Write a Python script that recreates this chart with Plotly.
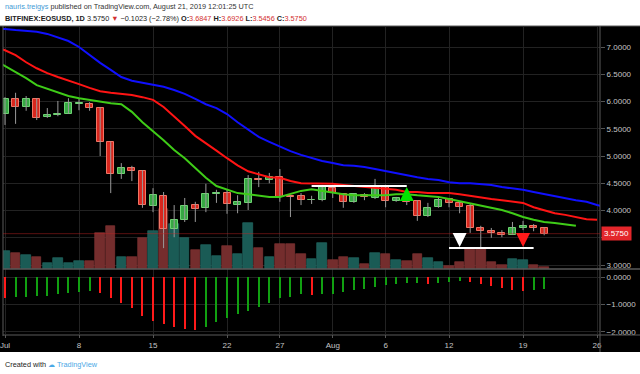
import pandas as pd
import plotly.graph_objects as go

# ---------------- data ----------------
start = pd.Timestamp("2019-07-01")
open_ = [5.77, 6.05, 5.90, 6.05, 5.72, 5.75, 5.77, 5.95, 5.95, 5.88,
         5.26, 4.67, 4.78, 4.72, 4.08, 4.27, 3.66, 3.83, 4.10, 4.05,
         4.30, 4.32, 4.10, 4.14, 4.58, 4.56, 4.61, 4.27, 4.27, 4.19,
         4.19, 4.41, 4.30, 4.16, 4.28, 4.23, 4.45, 4.17, 4.23, 4.17,
         3.90, 4.06, 4.21, 4.14, 4.08, 3.68, 3.62, 3.59, 3.55, 3.68,
         3.72, 3.6847]
high = [6.08, 6.16, 6.10, 6.06, 5.88, 6.01, 6.06, 6.05, 5.99, 5.90,
        5.26, 4.87, 4.82, 4.74, 4.41, 4.34, 4.10, 4.23, 4.16, 4.49,
        4.38, 4.38, 4.28, 4.65, 4.71, 4.69, 4.76, 4.27, 4.32, 4.27,
        4.47, 4.43, 4.32, 4.32, 4.32, 4.58, 4.47, 4.25, 4.25, 4.19,
        4.14, 4.23, 4.23, 4.16, 4.12, 3.72, 3.68, 3.64, 3.79, 3.81,
        3.75, 3.6926]
low = [5.57, 5.59, 5.83, 5.66, 5.70, 5.73, 5.77, 5.84, 5.83, 5.00,
       4.32, 4.58, 4.54, 4.05, 3.97, 3.31, 3.51, 3.79, 3.79, 3.97,
       4.14, 3.94, 3.95, 4.01, 4.43, 4.50, 4.16, 3.88, 4.10, 4.12,
       4.17, 4.23, 4.05, 4.14, 4.19, 4.21, 4.06, 4.16, 4.10, 3.81,
       3.88, 4.05, 4.06, 3.95, 3.59, 3.31, 3.50, 3.51, 3.55, 3.64,
       3.62, 3.5456]
close = [6.05, 5.90, 6.05, 5.70, 5.75, 5.77, 5.97, 5.97, 5.88, 5.26,
         4.67, 4.78, 4.72, 4.10, 4.28, 3.66, 3.83, 4.08, 4.03, 4.30,
         4.32, 4.12, 4.16, 4.58, 4.56, 4.61, 4.25, 4.25, 4.19, 4.20,
         4.43, 4.32, 4.16, 4.30, 4.25, 4.45, 4.17, 4.23, 4.16, 3.90,
         4.05, 4.19, 4.14, 4.06, 3.68, 3.62, 3.59, 3.55, 3.68, 3.72,
         3.6773, 3.5750]
volume = [18, 16, 14, 12, 6, 11, 6, 8, 8, 36,
          43, 12, 12, 31, 38, 60, 45, 31, 19, 24,
          13, 23, 15, 46, 21, 12, 25, 25, 15, 10,
          26, 9, 12, 11, 5, 16, 15, 9, 8, 15,
          11, 7, 3, 7, 20, 20, 7, 4, 10, 9,
          4, 2]
awesome_osc = [-0.75, -0.74, -0.71, -0.70, -0.68, -0.61, -0.57, -0.54, -0.52, -0.58,
               -0.76, -0.93, -1.14, -1.41, -1.60, -1.72, -1.82, -1.89, -1.91, -1.81,
               -1.63, -1.48, -1.36, -1.22, -1.08, -0.93, -0.78, -0.72, -0.63, -0.65,
               -0.63, -0.60, -0.54, -0.48, -0.45, -0.36, -0.30, -0.24, -0.23, -0.22,
               -0.24, -0.22, -0.18, -0.16, -0.18, -0.24, -0.33, -0.40, -0.46, -0.51,
               -0.47, -0.45]
ao_rising = [0, 1, 1, 1, 1, 1, 1, 1, 1, 0,
             0, 0, 0, 0, 0, 0, 0, 0, 0, 1,
             1, 1, 1, 1, 1, 1, 1, 1, 1, 0,
             1, 1, 1, 1, 1, 1, 1, 1, 1, 1,
             0, 1, 1, 1, 0, 0, 0, 0, 0, 0,
             1, 1]
# Alligator lines (first value = Jun 30), drawn shifted forward
lips = [6.76, 6.65, 6.54, 6.43, 6.30, 6.23, 6.16, 6.10, 6.06, 6.03,
        5.99, 5.97, 5.95, 5.81, 5.62, 5.46, 5.29, 5.11, 4.96, 4.78,
        4.60, 4.45, 4.38, 4.32, 4.30, 4.27, 4.25, 4.25, 4.30, 4.36,
        4.39, 4.36, 4.32, 4.30, 4.28, 4.28, 4.28, 4.28, 4.30, 4.30,
        4.28, 4.27, 4.25, 4.21, 4.17, 4.14, 4.10, 4.06, 4.01, 3.95,
        3.88, 3.83, 3.79, 3.77, 3.75, 3.72]
teeth = [7.00, 6.94, 6.85, 6.72, 6.61, 6.52, 6.45, 6.39, 6.32, 6.25,
         6.19, 6.16, 6.14, 6.12, 6.08, 6.03, 5.90, 5.73, 5.55, 5.37,
         5.24, 5.10, 4.96, 4.83, 4.72, 4.67, 4.61, 4.60, 4.54, 4.50,
         4.50, 4.50, 4.49, 4.47, 4.45, 4.43, 4.41, 4.39, 4.38, 4.34,
         4.34, 4.32, 4.32, 4.32, 4.30, 4.27, 4.23, 4.21, 4.19, 4.17,
         4.14, 4.06, 4.01, 3.95, 3.92, 3.88, 3.84, 3.83]
jaw = [7.33, 7.33, 7.31, 7.29, 7.28, 7.24, 7.18, 7.11, 7.00, 6.85,
       6.71, 6.58, 6.45, 6.38, 6.34, 6.30, 6.27, 6.21, 6.14, 6.05,
       5.95, 5.88, 5.77, 5.62, 5.48, 5.35, 5.26, 5.17, 5.09, 5.02,
       4.96, 4.91, 4.87, 4.83, 4.82, 4.80, 4.76, 4.72, 4.69, 4.65,
       4.61, 4.58, 4.56, 4.52, 4.50, 4.50, 4.49, 4.47, 4.43, 4.41,
       4.38, 4.34, 4.30, 4.27, 4.23, 4.19, 4.16, 4.10, 4.06]
level_high = 4.45
level_high_span = ["2019-07-30", "2019-08-08"]
level_low = 3.31
level_low_span = ["2019-08-12", "2019-08-20"]
arrow_up_date = "2019-08-08"
arrow_white_date = "2019-08-13"
arrow_red_date = "2019-08-19"
tick_dates = ["2019-07-01", "2019-07-08", "2019-07-15", "2019-07-22", "2019-07-27",
              "2019-08-01", "2019-08-06", "2019-08-12", "2019-08-19", "2019-08-26"]
tick_text = ["Jul", "8", "15", "22", "27", "Aug", "6", "12", "19", "26"]
price_ticks = [3.0, 3.5, 4.0, 4.5, 5.0, 5.5, 6.0, 6.5, 7.0]
price_tick_text = ["3.0000", "", "4.0000", "4.5000", "5.0000", "5.5000", "6.0000", "6.5000", "7.0000"]
osc_ticks = [0.0, -1.0, -2.0]

# ---------------- build ----------------
n = len(close)
dates = pd.date_range(start, periods=n, freq="D")
line_start = start - pd.Timedelta(days=1)
lips_x = pd.date_range(line_start, periods=len(lips), freq="D")
teeth_x = pd.date_range(line_start, periods=len(teeth), freq="D")
jaw_x = pd.date_range(line_start, periods=len(jaw), freq="D")
DAY = 86400000

UP_FILL, UP_LINE = "#36a843", "#6fd273"
DN_FILL, DN_LINE = "#d8261d", "#f07565"
up = [c >= o for o, c in zip(open_, close)]

fig = go.Figure()

# volume (base axis y, behind)
fig.add_trace(go.Bar(
    x=dates, y=volume, width=0.9 * DAY, yaxis="y", xaxis="x",
    marker=dict(color=["#1a5b55" if u else "#742d2d" for u in up],
                line=dict(color=["#24706a" if u else "#8a3838" for u in up], width=0.6)),
    hoverinfo="skip", showlegend=False))

# wicks
wx, wy = [], []
for d, lo, hi in zip(dates, low, high):
    wx += [d, d, None]
    wy += [lo, hi, None]
fig.add_trace(go.Scatter(x=wx, y=wy, mode="lines", yaxis="y3",
                         line=dict(color="#9a9a9a", width=1), hoverinfo="skip",
                         showlegend=False))

# bodies
for flag, fill, edge in [(True, UP_FILL, UP_LINE), (False, DN_FILL, DN_LINE)]:
    xs = [d for d, u in zip(dates, up) if u == flag]
    base = [min(o, c) for o, c, u in zip(open_, close, up) if u == flag]
    hgt = [max(abs(c - o), 0.008) for o, c, u in zip(open_, close, up) if u == flag]
    fig.add_trace(go.Bar(x=xs, y=hgt, base=base, width=0.66 * DAY, yaxis="y3",
                         marker=dict(color=fill, line=dict(color=edge, width=1)),
                         hoverinfo="skip", showlegend=False))

# alligator lines
for xs, ys, col in [(jaw_x, jaw, "#1010ff"), (teeth_x, teeth, "#ff1414"),
                    (lips_x, lips, "#3fcc18")]:
    fig.add_trace(go.Scatter(x=xs, y=ys, mode="lines", yaxis="y3",
                             line=dict(color=col, width=2), hoverinfo="skip",
                             showlegend=False))

# horizontal levels
for span, lvl in [(level_high_span, level_high), (level_low_span, level_low)]:
    fig.add_trace(go.Scatter(x=span, y=[lvl, lvl], mode="lines", yaxis="y3",
                             line=dict(color="#ffffff", width=2), hoverinfo="skip",
                             showlegend=False))

# oscillator
fig.add_trace(go.Bar(
    x=dates, y=awesome_osc, width=0.19 * DAY, yaxis="y2", xaxis="x",
    marker=dict(color=["#11a011" if r else "#ff1a1a" for r in ao_rising], line=dict(width=0)),
    hoverinfo="skip", showlegend=False))

# ---------------- layout ----------------
W, H = 640, 374
ML, MR, MT, MB = 3, 40, 27, 40
PW, PH = W - ML - MR, H - MT - MB
SEP_Y = 269
split = (H - MB - SEP_Y) / PH


def px_x(X):
    return (X - ML) / PW


def px_y(Y):
    return (H - MB - Y) / PH


x_range = [start - pd.Timedelta(hours=0.19 * 24), start + pd.Timedelta(hours=56.28 * 24)]
GRID = "#222222"
AXC = "#c4c4c4"
FONT = "Liberation Sans"
HSIZE = 7.3

fig.update_layout(
    width=W, height=H, margin=dict(l=ML, r=MR, t=MT, b=MB, autoexpand=False),
    paper_bgcolor="white", plot_bgcolor="black",
    barmode="overlay", bargap=0, showlegend=False,
    font=dict(family=FONT, size=8, color=AXC),
    xaxis=dict(type="date", range=x_range, anchor="y2", domain=[0, 1],
               tickvals=tick_dates, ticktext=tick_text, ticks="outside", ticklen=3,
               tickcolor="#555555", showgrid=True, gridcolor=GRID, gridwidth=1,
               zeroline=False, showline=False, ticklabeloverflow="allow",
               tickfont=dict(size=8, color=AXC)),
    yaxis=dict(domain=[split, 1], range=[0, SEP_Y - MT], visible=False,
               showgrid=False, fixedrange=True),
    yaxis3=dict(overlaying="y", side="right", range=[2.927, 7.367],
                tickvals=price_ticks, ticktext=price_tick_text, ticks="outside", ticklen=4,
                tickcolor="#555555", showgrid=True, gridcolor=GRID, zeroline=False,
                showline=False, tickfont=dict(size=8, color=AXC)),
    yaxis2=dict(domain=[0, split], side="right", range=[-2.073, 0.291],
                tickvals=osc_ticks, tickformat=".4f", ticks="outside", ticklen=4,
                tickcolor="#555555", showgrid=True, gridcolor=GRID, zeroline=False,
                showline=False, tickfont=dict(size=8, color=AXC)),
)

shapes = [
    dict(type="rect", xref="paper", yref="paper", x0=px_x(0), x1=px_x(W),
         y0=px_y(352), y1=px_y(26), fillcolor="black", line=dict(width=0), layer="below"),
    dict(type="line", xref="paper", yref="paper", x0=px_x(0), x1=px_x(W),
         y0=px_y(26), y1=px_y(26), line=dict(color="#5a5a5a", width=1)),
    dict(type="line", xref="paper", yref="paper", x0=px_x(3), x1=px_x(3),
         y0=px_y(336), y1=px_y(26), line=dict(color="#5a5a5a", width=1)),
    dict(type="line", xref="paper", yref="paper", x0=px_x(3), x1=px_x(W),
         y0=px_y(SEP_Y), y1=px_y(SEP_Y), line=dict(color="#5a5a5a", width=1.5)),
    dict(type="line", xref="paper", yref="paper", x0=px_x(3), x1=px_x(W),
         y0=px_y(335), y1=px_y(335), line=dict(color="#5a5a5a", width=1)),
    dict(type="line", xref="paper", yref="paper", x0=px_x(600), x1=px_x(600),
         y0=px_y(352), y1=px_y(26), line=dict(color="#5a5a5a", width=1)),
    dict(type="line", xref="x domain", yref="y3", x0=0, x1=1, y0=close[-1], y1=close[-1],
         line=dict(color="rgba(200,35,35,0.45)", width=1)),
]
fig.update_layout(shapes=shapes)

last_o, last_h, last_l, last_c = open_[-1], high[-1], low[-1], close[-1]
chg = last_c - close[-2]
pct = chg / close[-2] * 100
RED = "#d32f2f"
hdr1 = ("<span style='color:#3f9bd6'>nauris.treigys</span>"
        "<span style='color:#333333'> published on TradingView.com, August 21, 2019 12:01:25 UTC</span>")
hdr2 = (f"<span style='color:#222222'><b>BITFINEX:EOSUSD, 1D</b> {last_c:.4f} </span>"
        f"<span style='color:{RED}'>▼</span>"
        f"<span style='color:#222222'> {chg:.4f} ({pct:.2f}%) <b>O:</b></span>"
        f"<span style='color:{RED}'>{last_o:.4f}</span><span style='color:#222222'> <b>H:</b></span>"
        f"<span style='color:{RED}'>{last_h:.4f}</span><span style='color:#222222'> <b>L:</b></span>"
        f"<span style='color:{RED}'>{last_l:.4f}</span><span style='color:#222222'> <b>C:</b></span>"
        f"<span style='color:{RED}'>{last_c:.4f}</span>").replace("-", "−")

ann = [
    dict(xref="paper", yref="paper", x=px_x(3), y=px_y(7), xanchor="left", yanchor="middle",
         text=hdr1, showarrow=False, font=dict(family=FONT, size=HSIZE)),
    dict(xref="paper", yref="paper", x=px_x(3), y=px_y(19), xanchor="left", yanchor="middle",
         text=hdr2, showarrow=False, font=dict(family=FONT, size=HSIZE)),
    dict(xref="paper", yref="paper", x=px_x(3), y=px_y(364), xanchor="left", yanchor="middle",
         text="<span style='color:#222222'>Created with </span>"
              "<span style='color:#4aa8e6'>☁ TradingView</span>",
         showarrow=False, font=dict(family=FONT, size=HSIZE)),
    dict(xref="paper", yref="y3", x=px_x(601), y=last_c, xanchor="left", yanchor="middle",
         text=f"{last_c:.4f}", showarrow=False, bgcolor="#e3262b",
         font=dict(family=FONT, size=8, color="white"), borderpad=2),
    dict(x=arrow_up_date, y=level_high, xref="x", yref="y3", text="", showarrow=True,
         ax=0, ay=11, arrowhead=2, arrowsize=0.8, arrowwidth=3.5, arrowcolor="#00e400",
         standoff=1),
    dict(x=arrow_white_date, y=level_low, xref="x", yref="y3", text="", showarrow=True,
         ax=0, ay=-13, arrowhead=2, arrowsize=0.8, arrowwidth=3.5, arrowcolor="#ffffff",
         standoff=1),
    dict(x=arrow_red_date, y=level_low, xref="x", yref="y3", text="", showarrow=True,
         ax=0, ay=-14, arrowhead=2, arrowsize=0.8, arrowwidth=3.5, arrowcolor="#ff1a1a",
         standoff=1),
]
fig.update_layout(annotations=ann)

fig.write_html("out.html", config={"displayModeBar": False},
               post_script="document.body.style.margin='0';")
